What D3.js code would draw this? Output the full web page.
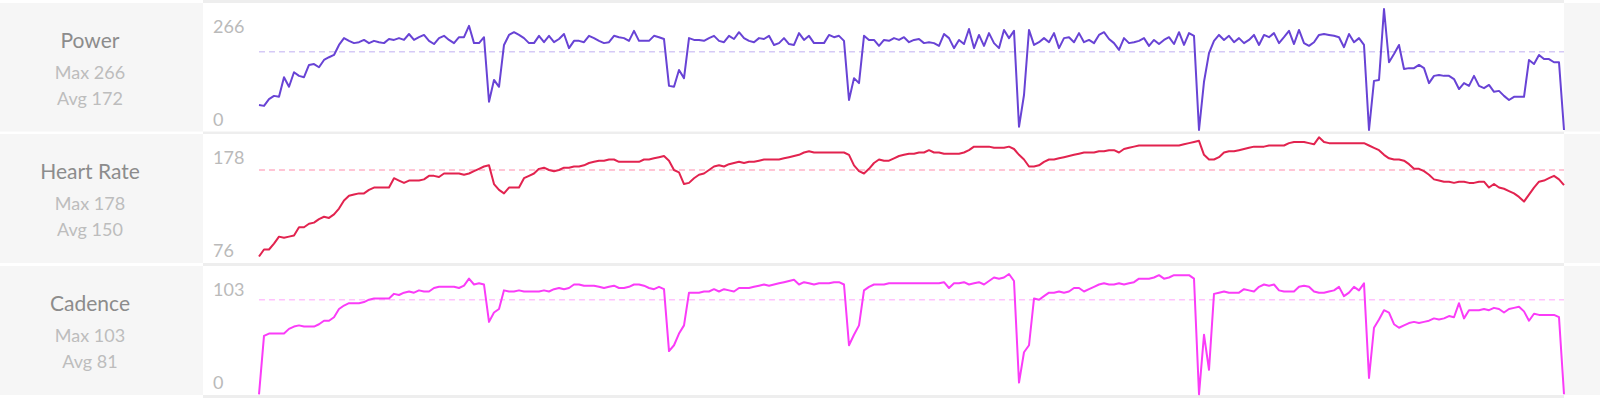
<!DOCTYPE html>
<html>
<head>
<meta charset="utf-8">
<script src="https://cdn.jsdelivr.net/npm/d3@7"></script>
<style>
  body { margin: 0; background: #fff; }
  svg { display: block; font-family: Lato, "Liberation Sans", sans-serif; }
</style>
</head>
<body>
<svg id="chart"></svg>
<script>
// values, one sample every few seconds of the ride
const power = [
  55,53,68,75,73,116,95,127,119,116,
  143,145,138,154,160,165,187,202,196,191,
  193,198,191,196,193,191,200,198,202,198,
  211,198,204,209,196,189,202,207,198,191,
  204,204,229,191,191,204,62,110,95,187,
  209,215,209,202,191,191,207,193,207,193,
  200,211,180,196,196,193,207,202,196,191,
  193,207,204,202,196,218,196,196,196,207,
  204,200,97,95,132,114,202,198,198,196,
  202,207,196,193,207,200,215,202,196,193,
  202,200,207,187,191,202,189,187,213,198,
  207,191,191,191,209,204,207,196,66,114,
  103,207,198,198,185,198,196,202,198,204,
  193,198,200,191,193,191,185,211,202,180,
  198,189,222,180,209,185,213,191,180,220,
  202,218,7,77,220,187,193,202,193,213,
  180,202,204,193,213,193,198,191,209,215,
  200,191,176,202,191,193,196,202,185,198,
  189,198,204,189,215,187,213,207,0,106,
  169,196,209,198,207,193,202,191,198,209,
  187,209,204,213,191,204,218,189,220,191,
  185,193,209,211,209,207,204,182,211,193,
  202,187,0,108,110,266,149,167,187,134,
  136,136,143,136,103,119,121,119,119,112,
  90,103,97,119,97,92,99,84,86,75,
  66,73,73,73,154,145,165,156,156,149,
  149,0
];

const heartRate = [
  76,82,82,87,93,92,93,94,101,101,
  104,105,108,110,109,112,117,124,128,129,
  130,130,133,135,135,135,135,143,141,139,
  141,141,141,142,145,145,144,147,147,147,
  147,146,147,149,151,153,154,138,133,130,
  135,135,135,143,145,147,151,152,150,149,
  150,152,152,153,153,154,156,157,158,158,
  159,159,157,157,157,157,157,159,159,160,
  161,162,158,150,148,138,139,143,146,147,
  150,153,154,153,155,156,157,156,157,157,
  158,159,159,159,159,160,161,162,163,165,
  166,165,165,165,165,165,165,165,163,154,
  149,147,151,156,159,158,158,160,162,163,
  164,164,165,165,167,165,165,164,164,164,
  164,165,167,170,170,170,170,169,169,169,
  170,168,163,159,153,153,154,157,159,159,
  160,161,162,163,164,165,165,165,166,166,
  167,167,165,168,169,170,171,171,171,171,
  171,171,171,171,171,172,173,174,175,163,
  159,159,161,165,166,166,167,168,169,170,
  170,170,171,171,171,171,173,174,174,174,
  173,172,178,174,173,173,173,173,173,173,
  173,173,171,169,167,163,160,159,159,158,
  155,151,151,149,146,142,141,140,140,139,
  140,140,139,139,140,140,135,138,135,134,
  132,130,127,123,129,135,140,141,143,145,
  142,137
];

const cadence = [
  0,50,52,52,52,52,56,58,59,58,
  58,58,60,63,63,66,73,76,78,78,
  78,79,81,82,82,82,82,86,85,87,
  88,87,89,88,88,91,92,92,92,92,
  91,93,99,94,95,94,62,70,73,89,
  88,88,89,88,88,88,88,89,88,90,
  91,90,91,94,94,93,93,93,92,91,
  92,93,91,91,92,94,94,93,91,90,
  92,90,37,42,52,59,87,87,87,88,
  88,90,88,90,89,88,91,91,91,92,
  93,94,93,94,95,96,97,98,94,96,
  95,94,95,95,95,96,96,94,42,51,
  59,89,92,94,94,94,95,95,95,95,
  95,95,95,95,95,95,95,96,91,95,
  95,96,94,95,96,94,97,100,99,100,
  103,97,10,36,42,82,81,84,87,87,
  88,87,88,91,91,88,90,92,94,95,
  94,94,95,94,95,96,99,99,99,100,
  102,99,100,102,102,102,102,99,0,51,
  21,86,87,88,87,87,87,90,89,88,
  92,94,93,94,89,88,88,88,92,93,
  92,88,87,87,88,89,92,84,87,92,
  89,95,14,57,64,72,70,60,57,59,
  61,62,61,62,63,65,64,65,67,66,
  78,65,72,72,72,73,72,74,73,70,
  73,74,75,71,63,69,68,68,68,68,
  66,0
];

const metricNames = ["Power", "Heart Rate", "Cadence"];
const metricMin = [0, 76, 0];
const metricMax = [266, 178, 103];
const metricAvg = [172, 150, 81];
const series = [power, heartRate, cadence];

// layout of the three rows (pixels)
const rowTop = [3, 134, 266];
const rowBottom = [131.5, 263, 395];
const plotTop = [9, 137.3, 274];
const plotBottom = [130, 256.5, 394.3];
const lineColor = ["#6843d5", "#e2234f", "#fa3cf8"];
const avgColor = ["#d5caf6", "#ffb3c7", "#ffc2fd"];

const width = 1600, height = 403;
const panelLeft = 203, panelRight = 1564;

const svg = d3.select("#chart")
  .attr("width", width)
  .attr("height", height);

var x = d3.scaleLinear()
  .domain([0, power.length - 1])
  .range([259, 1564]);

// separators between the rows of the white panel
svg.append("rect")
  .attr("x", panelLeft).attr("y", 0)
  .attr("width", panelRight - panelLeft).attr("height", 398)
  .attr("fill", "#eeeeee");

metricNames.forEach(function(name, i) {
  var top = rowTop[i], bottom = rowBottom[i];

  // left label cell
  svg.append("rect")
    .attr("x", 0).attr("y", top)
    .attr("width", panelLeft).attr("height", bottom - top)
    .attr("fill", "#f6f6f6");
  // right empty cell
  svg.append("rect")
    .attr("x", panelRight).attr("y", top)
    .attr("width", width - panelRight).attr("height", bottom - top)
    .attr("fill", "#f6f6f6");
  // chart cell
  svg.append("rect")
    .attr("x", panelLeft).attr("y", top)
    .attr("width", panelRight - panelLeft).attr("height", bottom - top)
    .attr("fill", "#ffffff");

  var label = svg.append("g").attr("text-anchor", "middle");
  label.append("text")
    .attr("x", 90).attr("y", top + 45)
    .attr("font-size", 21)
    .attr("fill", "#8c8c8c")
    .text(name);
  label.append("text")
    .attr("x", 90).attr("y", top + 76)
    .attr("font-size", 18)
    .attr("fill", "#bdbdbd")
    .text("Max " + metricMax[i]);
  label.append("text")
    .attr("x", 90).attr("y", top + 102)
    .attr("font-size", 18)
    .attr("fill", "#bdbdbd")
    .text("Avg " + metricAvg[i]);

  svg.append("text")
    .attr("x", 213).attr("y", top + 29.5)
    .attr("font-size", 18)
    .attr("fill", "#bababa")
    .text(metricMax[i]);
  svg.append("text")
    .attr("x", 213).attr("y", top + 122.5)
    .attr("font-size", 18)
    .attr("fill", "#bababa")
    .text(metricMin[i]);
});

metricNames.forEach(function(name, i) {
  var y = d3.scaleLinear()
    .domain([metricMin[i], metricMax[i]])
    .range([plotBottom[i], plotTop[i]]);

  svg.append("line")
    .attr("x1", x.range()[0]).attr("x2", x.range()[1])
    .attr("y1", y(metricAvg[i])).attr("y2", y(metricAvg[i]))
    .attr("stroke", avgColor[i])
    .attr("stroke-width", 1.6)
    .attr("stroke-dasharray", "6,4");

  var line = d3.line()
    .x(function(d, j) { return x(j); })
    .y(function(d) { return y(d); });

  svg.append("path")
    .datum(series[i])
    .attr("fill", "none")
    .attr("stroke", lineColor[i])
    .attr("stroke-width", 2)
    .attr("stroke-linejoin", "round")
    .attr("d", line);
});
</script>
</body>
</html>
